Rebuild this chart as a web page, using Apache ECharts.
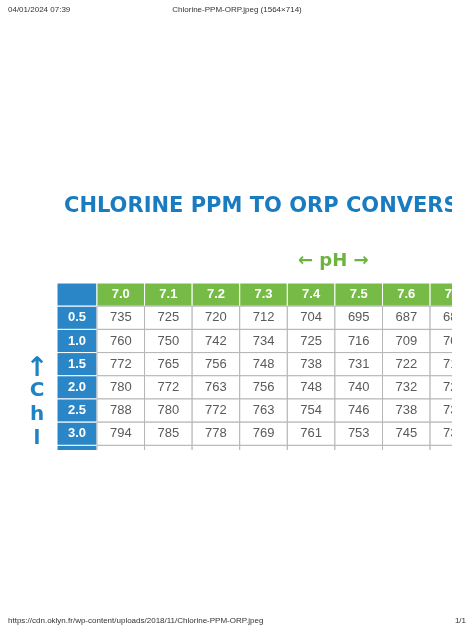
<!DOCTYPE html>
<html>
<head>
<meta charset="utf-8">
<script src="https://cdn.jsdelivr.net/npm/echarts@6/dist/echarts.min.js"></script>
<style>html,body{margin:0;padding:0;background:#fff}#c{width:474px;height:632px}</style>
</head>
<body>
<div id="c"></div>
<script>
// pH columns and chlorine rows
const phLabels = ['7.0', '7.1', '7.2', '7.3', '7.4', '7.5', '7.6', '7.7'];
const chlLabels = ['0.5', '1.0', '1.5', '2.0', '2.5', '3.0', '3.5'];
const orpValues = [
  [735, 725, 720, 712, 704, 695, 687, 680],
  [760, 750, 742, 734, 725, 716, 709, 701],
  [772, 765, 756, 748, 738, 731, 722, 714],
  [780, 772, 763, 756, 748, 740, 732, 724],
  [788, 780, 772, 763, 754, 746, 738, 730],
  [794, 785, 778, 769, 761, 753, 745, 737],
  [800, 791, 784, 775, 767, 759, 751, 743],
];

const cells = [];
cells.push([-1, -1, '', 'corner']);
phLabels.forEach((p, i) => cells.push([i, -1, p, 'ph']));
chlLabels.forEach((c, r) => {
  cells.push([-1, r, c, 'chl']);
  orpValues[r].forEach((v, i) => cells.push([i, r, String(v), 'val']));
});

const fills = { corner: '#2a86c6', ph: '#76bb45', chl: '#2a86c6', val: '#ffffff' };
const blue = '#1f82c4';

const chart = echarts.init(document.getElementById('c'));
chart.setOption({
  animation: false,
  grid: { left: 57, right: 22, top: 283, bottom: 182 },
  xAxis: { type: 'value', min: -0.84, max: 7.46, show: false },
  yAxis: { type: 'value', min: -1, max: 6.2, inverse: true, show: false },
  graphic: [
    { type: 'text', left: 8, top: 6, style: { text: '04/01/2024 07:39', fontSize: 8, fill: '#333', fontFamily: 'Liberation Sans' } },
    { type: 'text', left: 'center', top: 6, style: { text: 'Chlorine-PPM-ORP.jpeg (1564×714)', fontSize: 8, fill: '#333', fontFamily: 'Liberation Sans' } },
    { type: 'text', left: 8, top: 617, style: { text: 'https://cdn.oklyn.fr/wp-content/uploads/2018/11/Chlorine-PPM-ORP.jpeg', fontSize: 8, fill: '#333', fontFamily: 'Liberation Sans' } },
    { type: 'text', right: 8, top: 617, style: { text: '1/1', fontSize: 8, fill: '#333', fontFamily: 'Liberation Sans' } },
    { type: 'text', x: 64, y: 196, style: { text: 'CHLORINE PPM TO ORP CONVERSION CHART', fontSize: 21, fontWeight: 900, fill: '#1a7cc0', fontFamily: 'DejaVu Sans' } },
    { type: 'rect', shape: { x: 452, y: 190, width: 22, height: 40 }, style: { fill: '#fff' }, z: 10 },
    { type: 'text', x: 298, y: 252, style: { text: '← pH →', fontSize: 18, fontWeight: 'bold', fill: '#6cb33f', fontFamily: 'DejaVu Sans' } },
    { type: 'text', x: 37, y: 355, style: { text: '↑', fontSize: 27, fontWeight: 'bold', fill: blue, align: 'center', fontFamily: 'DejaVu Sans' } },
    { type: 'text', x: 37, y: 381, style: { text: 'C', fontSize: 20, fontWeight: 'bold', fill: blue, align: 'center', fontFamily: 'DejaVu Sans' } },
    { type: 'text', x: 37, y: 405, style: { text: 'h', fontSize: 20, fontWeight: 'bold', fill: blue, align: 'center', fontFamily: 'DejaVu Sans' } },
    { type: 'text', x: 37, y: 429, style: { text: 'l', fontSize: 20, fontWeight: 'bold', fill: blue, align: 'center', fontFamily: 'DejaVu Sans' } },
  ],
  series: [{
    type: 'custom',
    clip: true,
    data: cells,
    renderItem(params, api) {
      const col = api.value(0), row = api.value(1);
      const d = cells[params.dataIndex];
      const kind = d[3];
      const x0 = col < 0 ? -0.84 : col;
      const p0 = api.coord([x0, row]);
      const p1 = api.coord([col + 1, row + 1]);
      const header = kind !== 'val';
      return {
        type: 'group',
        children: [
          { type: 'rect', shape: { x: p0[0], y: p0[1], width: p1[0] - p0[0], height: p1[1] - p0[1] },
            style: { fill: fills[kind], stroke: header ? '#ffffff' : '#b5b5b5', lineWidth: 1 } },
          { type: 'text', style: { x: (p0[0] + p1[0]) / 2, y: (p0[1] + p1[1]) / 2, text: d[2], align: 'center', verticalAlign: 'middle',
            fontSize: 13, fontWeight: header ? 'bold' : 'normal', fill: header ? '#ffffff' : '#5a5a5a', fontFamily: 'Liberation Sans' } }
        ]
      };
    }
  }]
});
</script>
</body>
</html>
